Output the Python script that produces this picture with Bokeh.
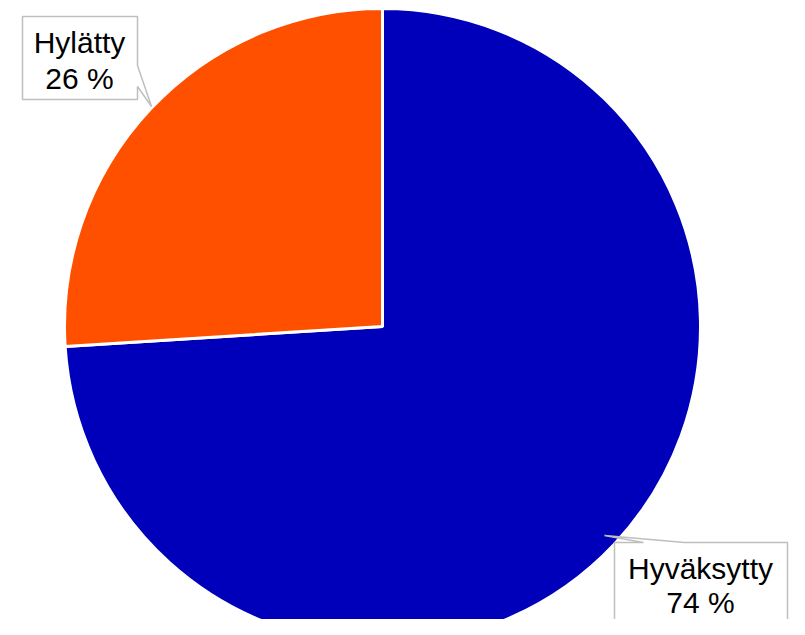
from math import pi
from bokeh.plotting import figure
from bokeh.models import Range1d
from bokeh.core.properties import value
from bokeh.embed import file_html
from bokeh.resources import INLINE

categories = ["Hyväksytty", "Hylätty"]
values = [74, 26]
colors = ["#0000BB", "#FF5000"]

# picture-pixel geometry helpers
CX, CY, R = 382, 326, 318
W, H = 789, 619
TEXT_SHIFT = 10  # svg text renders this much lower than asked

def tx(x):
    return x - CX

def ty(y):
    return CY - y

p = figure(width=W, height=H, output_backend="svg", toolbar_location=None,
           x_range=Range1d(tx(0), tx(W)), y_range=Range1d(ty(H), ty(0)),
           x_axis_location=None, y_axis_location=None, min_border=0,
           outline_line_color=None, background_fill_color="white")
p.grid.visible = False

total = sum(values)
start = pi / 2
for cat, v, c in zip(categories, values, colors):
    end = start - 2 * pi * v / total
    p.wedge(x=0, y=0, radius=R, start_angle=start, end_angle=end, direction="clock",
            fill_color=c, line_color="white", line_width=3)
    start = end

# callout boxes
box1 = [(22, 16), (137, 16), (137, 65), (151, 106), (137, 86), (137, 99), (22, 99)]
box2 = [(614, 542), (643, 542), (604, 535), (684, 542), (787, 542), (787, 640), (614, 640)]
for b in (box1, box2):
    p.patch([tx(a) for a, _ in b], [ty(c) for _, c in b], fill_color="white",
            line_color="#BFBFBF", line_width=1.5)

labels = {categories[1]: (79, 52, 88), categories[0]: (700, 578, 612)}
for cat, v in zip(categories, values):
    x, b1, b2 = labels[cat]
    p.text(x=[tx(x), tx(x)], y=[ty(b1 - TEXT_SHIFT), ty(b2 - TEXT_SHIFT)], text=[cat, f"{v} %"],
           text_align="center", text_baseline="alphabetic",
           text_font=value("Liberation Sans"), text_font_size="30px", text_color="black")

open("out.html", "w").write(file_html(p, INLINE))
